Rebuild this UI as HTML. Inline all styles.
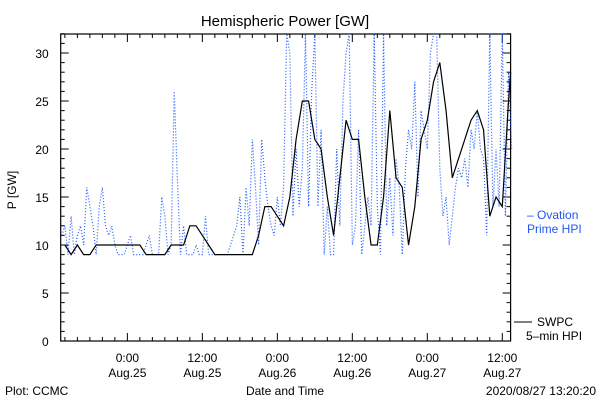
<!DOCTYPE html>
<html><head><meta charset="utf-8"><style>
body{margin:0;background:#fff;width:600px;height:400px;overflow:hidden}
svg text{font-family:"Liberation Sans","DejaVu Sans",sans-serif;font-size:12px;fill:#000}
</style></head><body>
<svg id="chart" width="600" height="400" viewBox="0 0 600 400" xmlns="http://www.w3.org/2000/svg">
<text x="285" y="26" text-anchor="middle" style="font-size:15px">Hemispheric Power [GW]</text>
<text x="16" y="190" text-anchor="middle" transform="rotate(-90 16 190)">P [GW]</text>
<g id="axes"></g>
<g id="series"></g>
<text x="527" y="219" style="fill:#2255ee">– Ovation</text>
<text x="527" y="233" style="fill:#2255ee">Prime HPI</text>
<line x1="514" y1="322" x2="532" y2="322" stroke="#000"/>
<text x="537" y="326">SWPC</text>
<text x="526" y="340">5–min HPI</text>
<text x="285" y="395" text-anchor="middle">Date and Time</text>
<text x="5" y="395">Plot: CCMC</text>
<text x="596" y="395" text-anchor="end">2020/08/27 13:20:20</text>
</svg>
<script>
const yTicks=[0,5,10,15,20,25,30];
const xTickHours=[0,12,24,36,48,60];
const xTickTimes=["0:00","12:00","0:00","12:00","0:00","12:00"];
const xTickDates=["Aug.25","Aug.25","Aug.26","Aug.26","Aug.27","Aug.27"];
const swpcStart=-10, swpcStep=1;
const swpcValues=[10,9,10,9,9,10,10,10,10,10,10,10,10,9,9,9,9,10,10,10,12,12,11,10,9,9,9,9,9,9,9,11,14,14,13,12,15,21,25,25,21,20,15,11,17,23,21,21,15,10,10,15,24,17,16,10,14,21,23,27,29,24,17,19,21,23,24,22,13,15,14,25];
const ovStart=-10.5, ovStep=0.5;
const ovValues=[11,12,9,13,9,11,12,10,16,14,12,9,14,16,12,11,12,10,9,9,9,10,11,9,9,9,9,10,11,9,9,9,15,13,9,10,26,17,9,12,9,9,9,10,9,9,13,9,9,9,9,9,9,9,10,11,12,15,9,16,12,21,16,10,21,17,14,12,11,15,12,16,32,30,13,20,14,18,32,14,26,32,14,22,9,14,9,9,20,12,25,30,32,10,12,22,9,12,15,12,32,14,9,32,12,17,11,19,16,9,18,22,20,27,15,24,22,20,30,32,32,18,13,15,10,13,16,18,17,19,16,22,20,24,20,19,11,32,14,20,14,32,13,28,20];
const X0=60.7,X1=510.6,H0=-10.67,H1=61.33,Y0=341,PPG=9.6,TOP=34;
const xs=h=>X0+(h-H0)*(X1-X0)/(H1-H0);
const ys=v=>Y0-Math.min(v,32.3)*PPG;
const NS="http://www.w3.org/2000/svg";
const ax=document.getElementById('axes'),se=document.getElementById('series');
function mk(p,tag,a){const e=document.createElementNS(NS,tag);for(const k in a)e.setAttribute(k,a[k]);p.appendChild(e);return e;}
const frame=mk(ax,'rect',{x:X0,y:TOP,width:X1-X0,height:Y0-TOP,fill:'none',stroke:'#000','stroke-width':1.2});


for(let v=0;v<=32;v++){const y=ys(v),L=v%5===0?8:4;
 mk(ax,'line',{x1:X0,y1:y,x2:X0+L,y2:y,stroke:'#000'});
 mk(ax,'line',{x1:X1,y1:y,x2:X1-L,y2:y,stroke:'#000'});}
yTicks.forEach(v=>{const t=mk(ax,'text',{x:X0-12,y:ys(v)+5,'text-anchor':'end'});t.textContent=v;
 
 });
for(let h=-10;h<=61;h+=2){const x=xs(h),L=h%12===0?8:4;
 mk(ax,'line',{x1:x,y1:Y0,x2:x,y2:Y0-L,stroke:'#000'});
 mk(ax,'line',{x1:x,y1:TOP,x2:x,y2:TOP+L,stroke:'#000'});}
xTickHours.forEach((h,i)=>{const a=mk(ax,'text',{x:xs(h),y:362,'text-anchor':'middle'});a.textContent=xTickTimes[i];
 
 
 const b=mk(ax,'text',{x:xs(h),y:377,'text-anchor':'middle'});b.textContent=xTickDates[i];
 
 });
const ov=mk(se,'polyline',{points:ovValues.map((v,i)=>xs(ovStart+i*ovStep)+','+ys(v)).join(' '),fill:'none',stroke:'#1e5aff','stroke-width':1.2,'stroke-dasharray':'1,2'});


let pts=swpcValues.map((v,i)=>xs(swpcStart+i*swpcStep)+','+ys(v));
pts.push(X1+','+ys(28));
const sw=mk(se,'polyline',{points:pts.join(' '),fill:'none',stroke:'#000','stroke-width':1.2});


</script>
</body></html>
